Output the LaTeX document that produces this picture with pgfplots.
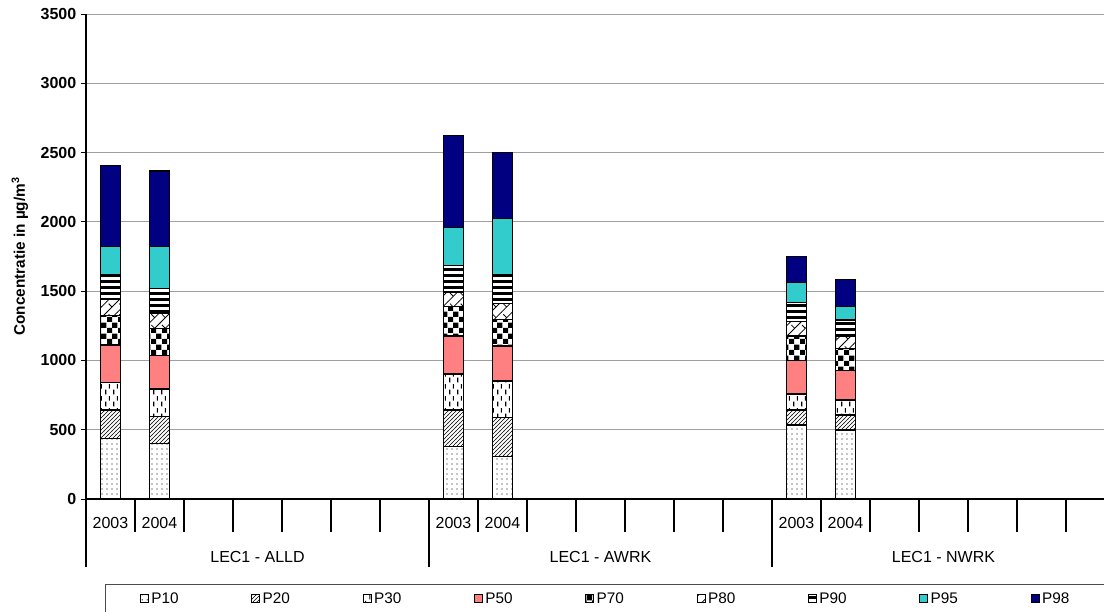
\documentclass[border=0pt]{standalone}
\usepackage{pgfplots}
\pgfplotsset{compat=1.18}
\usepackage{fontspec}
\setmainfont{Liberation Sans}
\usetikzlibrary{patterns}

\definecolor{psalmon}{HTML}{FF8080}
\definecolor{pturq}{HTML}{33CCCC}
\definecolor{pnavy}{HTML}{000080}

% fill patterns of the percentile bands
\pgfdeclarepatternformonly{pdots}{\pgfqpoint{0pt}{0pt}}{\pgfqpoint{3.75pt}{3.75pt}}{\pgfqpoint{3.75pt}{3.75pt}}{%
  \pgfpathcircle{\pgfqpoint{1.8pt}{1.8pt}}{0.55pt}\pgfusepath{fill}}
\pgfdeclarepatternformonly{pdiag}{\pgfqpoint{-0.5pt}{-0.5pt}}{\pgfqpoint{3.5pt}{3.5pt}}{\pgfqpoint{3pt}{3pt}}{%
  \pgfsetlinewidth{0.45pt}\pgfpathmoveto{\pgfqpoint{-0.1pt}{-0.1pt}}\pgfpathlineto{\pgfqpoint{3.1pt}{3.1pt}}\pgfusepath{stroke}}
\pgfdeclarepatternformonly{pdash}{\pgfqpoint{0pt}{0pt}}{\pgfqpoint{6pt}{9pt}}{\pgfqpoint{6pt}{9pt}}{%
  \pgfsetlinewidth{0.9pt}%
  \pgfpathmoveto{\pgfqpoint{1.5pt}{0.5pt}}\pgfpathlineto{\pgfqpoint{1.5pt}{4.2pt}}%
  \pgfpathmoveto{\pgfqpoint{4.5pt}{5pt}}\pgfpathlineto{\pgfqpoint{4.5pt}{8.7pt}}\pgfusepath{stroke}}
\pgfdeclarepatternformonly{pcheck}{\pgfqpoint{0pt}{0pt}}{\pgfqpoint{8pt}{8pt}}{\pgfqpoint{8pt}{8pt}}{%
  \pgfpathrectangle{\pgfqpoint{0pt}{0pt}}{\pgfqpoint{4pt}{4pt}}%
  \pgfpathrectangle{\pgfqpoint{4pt}{4pt}}{\pgfqpoint{4pt}{4pt}}\pgfusepath{fill}}
\pgfdeclarepatternformonly{pzig}{\pgfqpoint{-0.5pt}{-0.5pt}}{\pgfqpoint{8.5pt}{8.5pt}}{\pgfqpoint{8pt}{8pt}}{%
  \pgfsetlinewidth{0.6pt}%
  \pgfpathmoveto{\pgfqpoint{-0.1pt}{-0.1pt}}\pgfpathlineto{\pgfqpoint{8.1pt}{8.1pt}}%
  \pgfpathmoveto{\pgfqpoint{1.5pt}{6.5pt}}\pgfpathlineto{\pgfqpoint{4pt}{4pt}}\pgfusepath{stroke}}
\pgfdeclarepatternformonly{phstripe}{\pgfqpoint{0pt}{0pt}}{\pgfqpoint{1pt}{4.8pt}}{\pgfqpoint{1pt}{4.8pt}}{%
  \pgfpathrectangle{\pgfqpoint{-0.1pt}{0pt}}{\pgfqpoint{1.2pt}{2.3pt}}\pgfusepath{fill}}

\pgfplotsset{
  band/.style={draw=black, line width=0.9pt,
    legend image code/.code={\draw[##1, line width=0.5pt] (0pt,-3pt) rectangle (6pt,3pt);}},
  pband/.style={band, fill=white, postaction={pattern=#1}},
}

\begin{document}
\begin{tikzpicture}
\path[use as bounding box] (-64.5pt,-84pt) rectangle (763.5pt,374.25pt);
\begin{axis}[
  at={(0,0)}, anchor=south west,
  scale only axis, width=763.5pt, height=363.75pt,
  ybar stacked, bar width=15pt,
  xmin=-0.5, xmax=20.276, ymin=0, ymax=3500,
  enlargelimits=false, clip=false,
  axis x line*=bottom, axis y line*=left,
  axis line style={line width=1.2pt},
  ytick={0,500,...,3500},
  ymajorgrids, major grid style={draw=gray!75, line width=0.75pt},
  tick align=outside, major tick length=3.75pt,
  tick style={black, line width=0.75pt},
  xtick={0,1,7,8,14,15},
  xticklabels={2003,2004,2003,2004,2003,2004},
  major x tick style={draw=none},
  minor xtick={0.5,1.5,...,19.5},
  minor tick length=24.75pt,
  minor tick style={black, line width=1.2pt},
  xticklabel style={font=\fontsize{12}{14}\selectfont, anchor=base, yshift=-18.5pt},
  yticklabel style={font=\bfseries\fontsize{12}{14}\selectfont},
  /pgf/number format/assume math mode=true,
  /pgf/number format/1000 sep={},
  ylabel={\textbf{Concentratie in µg/m\textsuperscript{3}}},
  ylabel style={font=\fontsize{11.5}{13}\selectfont, at={(axis description cs:-0.065,0.5)}, anchor=center},
  legend columns=9,
  legend cell align=left,
  legend style={at={(0,0)}, anchor=north west, xshift=14.25pt, yshift=-63.75pt,
    draw=black!70, line width=0.6pt, font=\fontsize{11.5}{13}\selectfont,
    inner xsep=26pt, inner ysep=4pt,
    /tikz/every even column/.append style={column sep=0pt}},
]
% P10 .. P98, stacked per station and year
\addplot[pband=pdots] coordinates {(0,438) (1,402) (7,377) (8,305) (14,534) (15,498)};
\addlegendentry{\makebox[73pt][l]{P10}}
\addplot[pband=pdiag] coordinates {(0,204) (1,192) (7,265) (8,282) (14,108) (15,108)};
\addlegendentry{\makebox[73pt][l]{P20}}
\addplot[pband=pdash] coordinates {(0,197) (1,200) (7,260) (8,265) (14,116) (15,108)};
\addlegendentry{\makebox[73pt][l]{P30}}
\addplot[band, fill=psalmon] coordinates {(0,272) (1,240) (7,274) (8,252) (14,240) (15,212)};
\addlegendentry{\makebox[73pt][l]{P50}}
\addplot[pband=pcheck] coordinates {(0,212) (1,198) (7,212) (8,193) (14,178) (15,161)};
\addlegendentry{\makebox[73pt][l]{P70}}
\addplot[pband=pzig] coordinates {(0,118) (1,108) (7,106) (8,115) (14,104) (15,84)};
\addlegendentry{\makebox[73pt][l]{P80}}
\addplot[pband=phstripe] coordinates {(0,180) (1,180) (7,190) (8,205) (14,139) (15,121)};
\addlegendentry{\makebox[73pt][l]{P90}}
\addplot[band, fill=pturq] coordinates {(0,200) (1,301) (7,274) (8,409) (14,142) (15,96)};
\addlegendentry{\makebox[73pt][l]{P95}}
\addplot[band, fill=pnavy] coordinates {(0,584) (1,546) (7,664) (8,473) (14,188) (15,197)};
\addlegendentry{\makebox[73pt][l]{P98}}

% long separators between the stations
\draw[line width=1.2pt] (axis cs:-0.5,0) -- ++(0pt,-51pt);
\draw[line width=1.2pt] (axis cs:6.5,0) -- ++(0pt,-51pt);
\draw[line width=1.2pt] (axis cs:13.5,0) -- ++(0pt,-51pt);
\node[anchor=base, font=\fontsize{12}{14}\selectfont] at ([yshift=-47.25pt]axis cs:3,0) {LEC1 - ALLD};
\node[anchor=base, font=\fontsize{12}{14}\selectfont] at ([yshift=-47.25pt]axis cs:10,0) {LEC1 - AWRK};
\node[anchor=base, font=\fontsize{12}{14}\selectfont] at ([yshift=-47.25pt]axis cs:17,0) {LEC1 - NWRK};
\end{axis}
\end{tikzpicture}
\end{document}
